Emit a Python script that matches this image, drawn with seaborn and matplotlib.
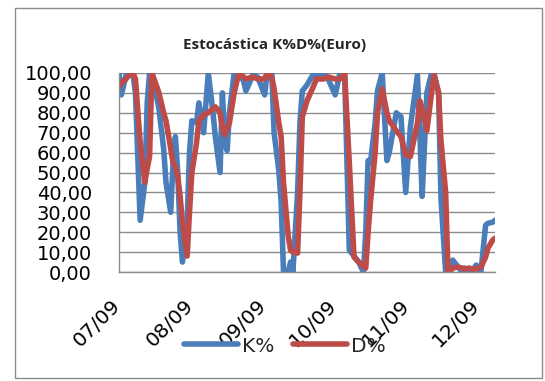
import matplotlib
matplotlib.use("Agg")
import matplotlib.pyplot as plt
import matplotlib.patches as mpatches
import matplotlib.transforms as mtransforms
import pandas as pd
import seaborn as sns

# Estocástica del euro: %K y %D por fecha (días desde el inicio de la serie)
inicio = "2009-07-01"
dia = [0, 1, 3, 5, 6, 7, 9, 11, 12, 13, 14, 17, 19, 20, 22, 23, 24, 25, 26, 27,
       29, 30, 31, 33, 34, 36, 38, 40, 41, 43, 44, 45, 46, 47, 49, 51, 53, 54, 57, 59,
       62, 63, 65, 66, 68, 69, 70, 72, 73, 74, 76, 77, 78, 80, 83, 84, 87, 89, 92, 94,
       96, 98, 100, 102, 104, 105, 106, 107, 109, 110, 112, 114, 115, 118, 120, 122, 124, 127, 128, 129,
       131, 133, 134, 136, 137, 139, 140, 141, 142, 144, 146, 147, 149, 150, 152, 154, 156, 157, 159, 160]
k_pct = [100, 89, 99, 100, 99, 90, 26, 45, 85, 100, 100, 82, 62, 45, 30, 55, 68, 50, 20, 5,
         25, 60, 76, 75, 85, 70, 100, 80, 68, 50, 90, 65, 61, 80, 100, 100, 96, 91, 99, 98,
         89, 100, 100, 70, 51, 35, 0, 0, 5, 0, 40, 75, 91, 94, 100, 98, 100, 97, 89, 100,
         100, 11, 8, 5, 0, 20, 56, 55, 75, 91, 100, 56, 60, 80, 78, 40, 73, 99, 70, 38,
         90, 100, 100, 90, 37, 0, 0, 0, 6, 3, 0, 2, 0, 0, 3.5, 0, 23.5, 24.5, 25, 26]
d_pct = [93, 95, 97, 100, 100, 97, 65, 45, 52, 58, 100, 90, 80, 76, 62, 55, 53, 48, 38, 25,
         8, 30, 50, 65, 76, 79, 80, 82, 83, 80, 72, 69, 72, 75, 90, 100, 98, 97, 98, 97,
         97, 100, 98, 92, 75, 68, 45, 18, 11, 10, 9.5, 40, 78, 86, 94, 97, 97, 98, 97, 97,
         100, 55, 7.5, 5, 3, 2, 20, 35, 60, 80, 92, 80, 76, 71, 68, 59, 58, 75, 86, 82,
         71, 90, 99, 90, 66, 40, 0, 1, 2, 2.5, 2, 1.5, 2, 1.5, 1.5, 2.5, 7.5, 12, 16, 17]

series = ["K%", "D%"]
colores = {"K%": "#4A7EBB", "D%": "#BE4B48"}
titulo = "Estocástica K%D%(Euro)"
meses = ["2009-07-01", "2009-08-01", "2009-09-01", "2009-10-01", "2009-11-01", "2009-12-01"]
etiquetas_x = ["07/09", "08/09", "09/09", "10/09", "11/09", "12/09"]
valores_y = [0, 10, 20, 30, 40, 50, 60, 70, 80, 90, 100]
etiquetas_y = ["0,00", "10,00", "20,00", "30,00", "40,00", "50,00",
               "60,00", "70,00", "80,00", "90,00", "100,00"]

fechas = pd.Timestamp(inicio) + pd.to_timedelta(dia, unit="D")
df = pd.DataFrame({"fecha": fechas, "K%": k_pct, "D%": d_pct})
largo = df.melt(id_vars="fecha", value_vars=series, var_name="serie", value_name="valor")

sns.set_style("white")
plt.rcParams["font.family"] = ["DejaVu Sans"]

fig = plt.figure(figsize=(5.45, 3.81), dpi=100)
ax = fig.add_axes([119 / 545, 1 - 272 / 381, (495 - 119) / 545, (272 - 73) / 381])

sns.lineplot(data=largo, x="fecha", y="valor", hue="serie", hue_order=series,
             palette=colores, linewidth=4, ax=ax, legend=False, estimator=None)
for ln in ax.lines:
    ln.set_solid_joinstyle("round")
    ln.set_solid_capstyle("round")

gris = "#8C8C8C"
ax.set_ylim(0, 100)
ax.set_xlim(pd.Timestamp(inicio), fechas[-1])
ax.set_yticks(valores_y)
ax.set_yticklabels(etiquetas_y)
ax.set_xticks(pd.to_datetime(meses))
ax.set_xticklabels(etiquetas_x, rotation=45, ha="right")
ax.set_xlabel("")
ax.set_ylabel("")
ax.yaxis.grid(True, color=gris, linewidth=1)
ax.xaxis.grid(False)
ax.set_axisbelow(True)
for lado in ["top", "right"]:
    ax.spines[lado].set_visible(False)
for lado in ["left", "bottom"]:
    ax.spines[lado].set_color(gris)
    ax.spines[lado].set_linewidth(1)
ax.tick_params(axis="y", length=0, pad=19.5, labelsize=14, labelcolor="#000000")
ax.tick_params(axis="x", length=0, pad=17, labelsize=14.5, labelcolor="#000000")
desplaza = mtransforms.ScaledTranslation(5 / 100, 0, fig.dpi_scale_trans)
for lbl in ax.get_xticklabels():
    lbl.set_transform(lbl.get_transform() + desplaza)

fig.text(275 / 545, 1 - 45 / 381, titulo, ha="center", va="center",
         fontsize=11, fontweight="bold", family=["Open Sans", "DejaVu Sans"])

leg = ax.legend(handles=ax.lines[:2], labels=series, loc="center",
                bbox_to_anchor=(285 / 545, 1 - 346 / 381), bbox_transform=fig.transFigure,
                ncol=2, frameon=False, fontsize=14.5, handlelength=2.7,
                handletextpad=0.2, columnspacing=0.9, borderpad=0)

fig.patches.append(mpatches.Rectangle((15 / 545, 1 - 378 / 381), 527 / 545, 370 / 381,
                                      transform=fig.transFigure, fill=False,
                                      edgecolor=gris, linewidth=1))

fig.savefig("out.png", dpi=100)
